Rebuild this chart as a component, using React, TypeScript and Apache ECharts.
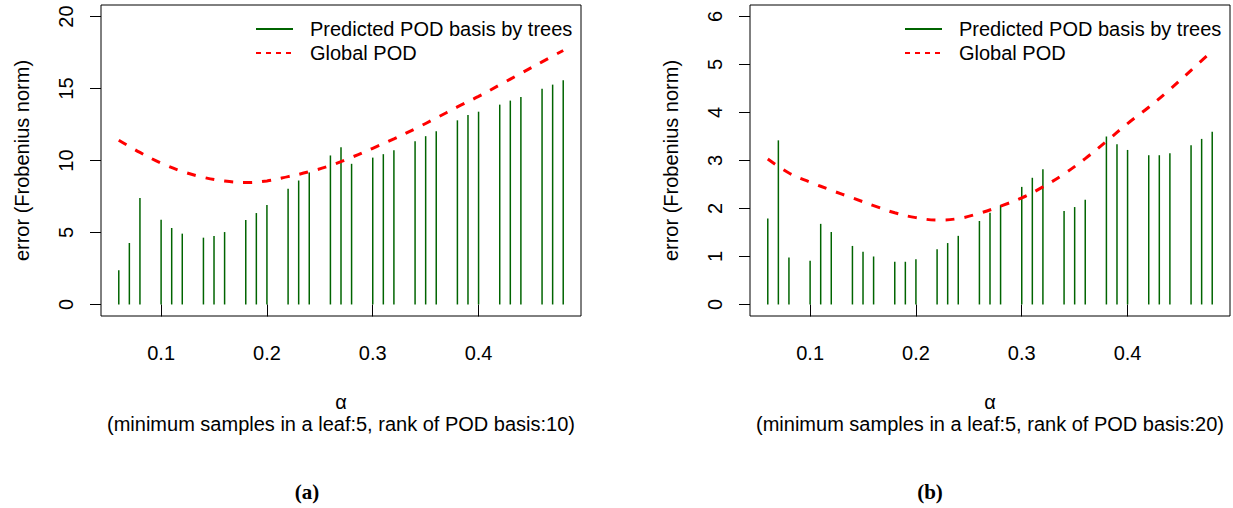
import React, { useEffect, useRef } from "react";
import * as echarts from "echarts";

// alpha values of the tree predictions (bars)
const ALPHA = [0.06, 0.07, 0.08, 0.1, 0.11, 0.12, 0.14, 0.15, 0.16, 0.18, 0.19, 0.2, 0.22, 0.23, 0.24, 0.26, 0.27, 0.28, 0.3, 0.31, 0.32, 0.34, 0.35, 0.36, 0.38, 0.39, 0.4, 0.42, 0.43, 0.44, 0.46, 0.47, 0.48];
// panel (a): rank 10
const TREE_ERR_A = [2.38, 4.27, 7.39, 5.89, 5.31, 4.92, 4.64, 4.76, 5.03, 5.87, 6.35, 6.91, 8.04, 8.61, 9.17, 10.35, 10.92, 9.77, 10.2, 10.44, 10.72, 11.34, 11.69, 12.03, 12.79, 13.16, 13.39, 13.88, 14.16, 14.41, 14.99, 15.27, 15.57];
// panel (b): rank 20
const TREE_ERR_B = [1.79, 3.42, 0.98, 0.91, 1.68, 1.51, 1.22, 1.1, 1.0, 0.89, 0.89, 0.94, 1.15, 1.28, 1.43, 1.74, 1.91, 2.07, 2.45, 2.64, 2.82, 1.95, 2.03, 2.18, 3.5, 3.34, 3.22, 3.11, 3.11, 3.15, 3.32, 3.45, 3.6];

// global POD curve
const GLOBAL_ALPHA = [0.06, 0.08, 0.1, 0.12, 0.14, 0.16, 0.18, 0.2, 0.22, 0.24, 0.26, 0.28, 0.3, 0.32, 0.34, 0.36, 0.38, 0.4, 0.42, 0.44, 0.46, 0.48];
const GLOBAL_A = [11.41, 10.56, 9.82, 9.24, 8.83, 8.57, 8.47, 8.58, 8.88, 9.22, 9.65, 10.22, 10.85, 11.5, 12.2, 12.95, 13.72, 14.45, 15.25, 16.05, 16.85, 17.64];
const GLOBAL_B = [3.03, 2.74, 2.55, 2.38, 2.22, 2.06, 1.91, 1.81, 1.76, 1.79, 1.9, 2.05, 2.22, 2.45, 2.72, 3.04, 3.4, 3.77, 4.11, 4.48, 4.88, 5.28];

// axis ticks
const X_TICKS = [0.1, 0.2, 0.3, 0.4];
const Y_TICKS_A = [0, 5, 10, 15, 20];
const Y_TICKS_B = [0, 1, 2, 3, 4, 5, 6];

const LEGEND_TREES = "Predicted POD basis by trees";
const LEGEND_GLOBAL = "Global POD";
const Y_TITLE = "error (Frobenius norm)";
const X_TITLE = "α";
const SUB_A = "(minimum samples in a leaf:5, rank of POD basis:10)";
const SUB_B = "(minimum samples in a leaf:5, rank of POD basis:20)";

const FONT = "Liberation Sans, Arial, sans-serif";
const GREEN = "#006400";
const RED = "#ff0000";

export default function App() {
  const ref = useRef<HTMLDivElement>(null);

  useEffect(() => {
    if (!ref.current) return;
    const chart = echarts.init(ref.current, undefined, { renderer: "svg" });

    const gridW = 480;
    const gridH = 311;
    const gridTop = 5;
    const lefts = [101, 750];

    const xAxisFor = (gi: number) => ({
      gridIndex: gi,
      type: "value",
      min: 0.0432,
      max: 0.4968,
      axisLine: { show: false },
      splitLine: { show: false },
      axisTick: { show: true, length: 12, customValues: X_TICKS, lineStyle: { color: "#000", width: 1 } },
      axisLabel: {
        customValues: X_TICKS,
        margin: 27,
        fontSize: 20,
        fontFamily: FONT,
        color: "#000",
        formatter: (v: number) => v.toFixed(1),
      },
    });
    const yAxisFor = (gi: number, min: number, max: number, ticks: number[]) => ({
      gridIndex: gi,
      type: "value",
      min,
      max,
      axisLine: { show: false },
      splitLine: { show: false },
      axisTick: { show: true, length: 11, customValues: ticks, lineStyle: { color: "#000", width: 1 } },
      axisLabel: {
        customValues: ticks,
        rotate: 90,
        margin: 25,
        fontSize: 20,
        fontFamily: FONT,
        color: "#000",
        formatter: (v: number) => String(Math.round(v)),
      },
    });

    const bars = (gi: number, vals: number[]) => ({
      type: "custom",
      xAxisIndex: gi,
      yAxisIndex: gi,
      data: ALPHA.map((a, i) => [a, vals[i]]),
      encode: { x: 0, y: 1 },
      renderItem: (params: any, api: any) => {
        const x = api.value(0);
        const y = api.value(1);
        const p0 = api.coord([x, 0]);
        const p1 = api.coord([x, y]);
        return {
          type: "line",
          shape: { x1: p0[0], y1: p0[1], x2: p1[0], y2: p1[1] },
          style: { stroke: GREEN, lineWidth: 1.5 },
        };
      },
    });
    const curve = (gi: number, vals: number[]) => ({
      type: "line",
      xAxisIndex: gi,
      yAxisIndex: gi,
      data: GLOBAL_ALPHA.map((a, i) => [a, vals[i]]),
      smooth: 0.4,
      symbol: "none",
      showSymbol: false,
      lineStyle: { color: RED, width: 3, type: [9, 10], cap: "butt" },
      z: 5,
    });

    const graphics: any[] = [];
    lefts.forEach((l, gi) => {
      const cx = l + gridW / 2;
      const right = l + gridW;
      graphics.push({
        type: "text",
        x: l - 79,
        y: gridTop + gridH / 2,
        rotation: Math.PI / 2,
        style: {
          text: Y_TITLE,
          fontSize: 20,
          fontFamily: FONT,
          fill: "#000",
          align: "center",
          verticalAlign: "middle",
          textAlign: "center",
          textVerticalAlign: "middle",
        },
      });
      graphics.push({
        type: "text",
        x: cx,
        y: 402,
        style: { text: X_TITLE, fontSize: 20, fontFamily: FONT, fill: "#000", align: "center", verticalAlign: "middle", textAlign: "center", textVerticalAlign: "middle" },
      });
      graphics.push({
        type: "text",
        x: cx,
        y: 424,
        style: { text: gi === 0 ? SUB_A : SUB_B, fontSize: 20, fontFamily: FONT, fill: "#000", align: "center", verticalAlign: "middle", textAlign: "center", textVerticalAlign: "middle" },
      });
      graphics.push({
        type: "text",
        x: gi === 0 ? 307 : 930,
        y: 492,
        style: { text: gi === 0 ? "(a)" : "(b)", fontSize: 21, fontWeight: "bold", fontFamily: "Liberation Serif, Times New Roman, serif", fill: "#000", align: "center", verticalAlign: "middle", textAlign: "center", textVerticalAlign: "middle" },
      });
      const lx = right - 325;
      graphics.push({ type: "line", shape: { x1: lx, y1: 29, x2: lx + 37, y2: 29 }, style: { stroke: GREEN, lineWidth: 2 } });
      graphics.push({ type: "line", shape: { x1: lx, y1: 53, x2: lx + 37, y2: 53 }, style: { stroke: RED, lineWidth: 2, lineDash: [5, 5] } });
      graphics.push({
        type: "text",
        x: right - 271,
        y: 29,
        style: { text: LEGEND_TREES, fontSize: 20, fontFamily: FONT, fill: "#000", align: "left", verticalAlign: "middle", textAlign: "left", textVerticalAlign: "middle" },
      });
      graphics.push({
        type: "text",
        x: right - 271,
        y: 53,
        style: { text: LEGEND_GLOBAL, fontSize: 20, fontFamily: FONT, fill: "#000", align: "left", verticalAlign: "middle", textAlign: "left", textVerticalAlign: "middle" },
      });
    });

    chart.setOption({
      animation: false,
      backgroundColor: "#fff",
      grid: lefts.map((l) => ({
        left: l,
        top: gridTop,
        width: gridW,
        height: gridH,
        show: true,
        borderColor: "#000",
        borderWidth: 1,
        backgroundColor: "transparent",
        containLabel: false,
      })),
      xAxis: [xAxisFor(0), xAxisFor(1)],
      yAxis: [yAxisFor(0, -0.8, 20.8, Y_TICKS_A), yAxisFor(1, -0.24, 6.24, Y_TICKS_B)],
      series: [bars(0, TREE_ERR_A), curve(0, GLOBAL_A), bars(1, TREE_ERR_B), curve(1, GLOBAL_B)],
      graphic: graphics,
    });

    return () => chart.dispose();
  }, []);

  return (
    <div
      ref={ref}
      style={{ position: "absolute", left: 0, top: 0, width: 1233, height: 508, background: "#fff" }}
    />
  );
}
